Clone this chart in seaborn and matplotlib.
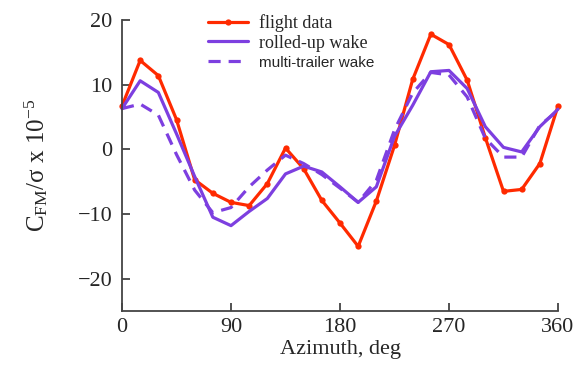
import matplotlib
matplotlib.use("Agg")
import matplotlib.pyplot as plt
import seaborn as sns
import pandas as pd

azimuth = [0, 15, 30, 45, 60, 75, 90, 105, 120, 135, 150, 165, 180,
           195, 210, 225, 240, 255, 270, 285, 300, 315, 330, 345, 360]
flight_data = [6.7, 13.75, 11.4, 4.6, -4.7, -6.8, -8.2, -8.7, -5.3, 0.2, -3.0, -7.9, -11.4,
               -15.0, -8.0, 0.6, 10.8, 17.8, 16.2, 10.7, 1.8, -6.5, -6.2, -2.2, 6.7]
rolled_up = [6.3, 10.6, 8.8, 2.4, -4.2, -10.5, -11.8, -9.6, -7.6, -3.8, -2.6, -3.5, -5.8,
             -8.2, -5.8, 2.0, 6.8, 12.0, 12.2, 9.4, 3.5, 0.3, -0.4, 3.5, 6.2]
multi_trailer = [6.3, 7.0, 5.3, -0.8, -6.3, -9.8, -9.0, -5.8, -3.2, -0.9, -2.2, -3.9, -6.0,
                 -8.2, -4.8, 3.0, 8.7, 11.9, 11.5, 8.1, 1.7, -1.2, -1.2, 3.7, 6.0]
labels = ["flight data", "rolled-up wake", "multi-trailer wake"]
xticks = [0, 90, 180, 270, 360]
yticks = [-20, -10, 0, 10, 20]

sns.set_style("ticks")
plt.rcParams["font.family"] = ["Liberation Serif", "DejaVu Serif"]
plt.rcParams["mathtext.fontset"] = "custom"
plt.rcParams["mathtext.rm"] = "Liberation Serif"
plt.rcParams["mathtext.it"] = "Liberation Serif:italic"

df = pd.DataFrame({"az": azimuth, "flight": flight_data,
                   "rolled": rolled_up, "multi": multi_trailer})

red = "#FF2A00"
purple = "#7D3FE0"

fig = plt.figure(figsize=(5.81, 3.66), dpi=100)
ax = fig.add_axes([122/581, 1 - 311/366, (558-122)/581, (311-20)/366])

sns.lineplot(data=df, x="az", y="flight", ax=ax, color=red, lw=2.3,
             marker="o", markersize=4.5, markeredgewidth=0, label=labels[0], clip_on=False)
sns.lineplot(data=df, x="az", y="rolled", ax=ax, color=purple, lw=2.3,
             label=labels[1], clip_on=False)
sns.lineplot(data=df, x="az", y="multi", ax=ax, color=purple, lw=2.3,
             label=labels[2], clip_on=False)
ax.lines[-1].set_linestyle((0, (3.8, 2.5)))

ax.set_xlim(0, 360)
ax.set_ylim(-25, 20)
ax.set_xticks(xticks)
ax.set_yticks(yticks)
ax.tick_params(direction="in", length=6, width=1.2, labelsize=16, color="#333333", pad=5)
ax.tick_params(axis="y", pad=7)
for s in ["top", "right"]:
    ax.spines[s].set_visible(False)
for s in ["left", "bottom"]:
    ax.spines[s].set_color("#444444")
    ax.spines[s].set_linewidth(1.3)

ax.set_xlabel("Azimuth, deg", fontsize=16, labelpad=2)
ax.set_ylabel(r"C$_{\rm FM}$/σ x 10$^{-5}$", fontsize=18, labelpad=20)

leg = ax.legend(loc="upper left", bbox_to_anchor=(199/581, 1 - 5/366), bbox_transform=fig.transFigure,
                frameon=False, fontsize=13, handlelength=2.2, labelspacing=0.15,
                handletextpad=0.6, borderpad=0.0, numpoints=1)
leg.get_texts()[2].set_fontfamily(["Liberation Sans", "DejaVu Sans"])
leg.get_texts()[2].set_fontsize(11)

fig.savefig("out.png", dpi=100)
